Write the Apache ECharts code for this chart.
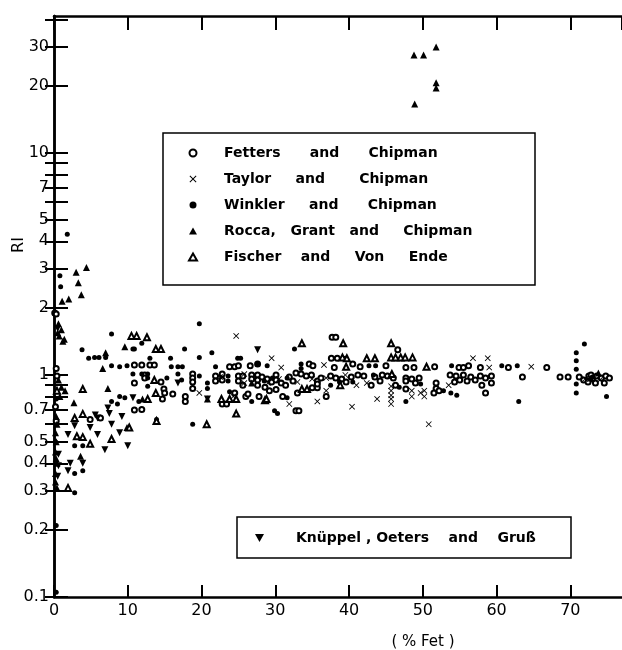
<!DOCTYPE html>
<html>
<head>
<meta charset="utf-8">
<script src="https://cdn.jsdelivr.net/npm/echarts@6/dist/echarts.min.js"></script>
<style>html,body{margin:0;padding:0;background:#fff}#c{width:622px;height:650px}</style>
</head>
<body>
<div id="c"></div>
<script>
// ---- data: [% Fet, RI] ----
const fettersData = [[0.1,1.9],[0.3,1.88],[0.3,1.07],[0.4,0.99],[0.2,0.72],[0.3,0.62],[4.9,0.63],[6.3,0.64],
[10.9,1.11],[11.9,1.11],[13.0,1.11],[13.6,1.11],[10.9,0.92],[14.5,0.93],[14.9,0.865],[16.1,0.82],[14.7,0.78],[10.9,0.695],[11.9,0.70],[18.8,1.01],[18.8,0.97],[18.8,0.93],[18.8,0.87],[17.8,0.80],[17.8,0.76],[12.3,1.0],[12.3,0.97],[15.0,0.83],
[21.9,0.99],[21.9,0.94],[22.8,1.01],[22.8,0.95],[23.8,1.09],[24.5,1.09],[25.0,1.1],[26.6,1.1],[27.6,1.12],[25.0,0.99],[25.0,0.94],[25.6,0.99],[25.6,0.9],[26.8,1.0],[26.8,0.96],[22.8,0.74],[23.4,0.74],[27.6,1.0],[27.6,0.95],[27.6,0.9],[27.8,0.8],[28.2,0.98],[28.9,0.96],[29.5,0.93],[26.0,0.8],[26.3,0.82],[24.5,0.83],[28.6,0.88],[29.2,0.85],
[30.1,1.0],[30.1,0.95],[30.8,0.92],[31.4,0.9],[30.1,0.86],[31.9,0.98],[32.4,0.94],[32.8,1.02],[33.5,1.01],[34.2,0.99],[34.9,1.0],[34.6,1.12],[35.1,1.1],[35.0,0.875],[35.7,0.875],[35.7,0.94],[35.7,0.91],[36.9,0.8],[37.7,1.48],[38.2,1.48],[37.6,1.19],[38.4,1.19],[38.0,1.08],[37.5,0.99],[38.2,0.97],[39.0,0.96],[39.6,0.93],[32.8,0.69],[33.2,0.69],[31.0,0.8],[33.0,0.83],[36.2,0.97],
[40.5,1.12],[41.5,1.09],[40.3,0.98],[41.2,1.0],[42.0,0.99],[43.5,0.98],[44.5,1.0],[44.2,0.94],[43.0,0.9],[45.0,1.1],[46.6,1.30],[45.2,0.99],[46.0,0.97],[47.7,0.97],[47.7,0.94],[48.5,0.96],[49.5,0.97],[47.7,1.08],[48.8,1.08],[47.7,0.865],[46.3,0.9],[49.0,0.92],
[51.6,1.09],[51.8,0.92],[51.8,0.87],[51.5,0.83],[52.2,0.85],[53.7,1.0],[54.5,0.99],[55.0,0.95],[55.5,1.0],[56.0,0.94],[56.5,0.98],[57.1,0.95],[54.3,0.93],[54.9,1.08],[55.5,1.08],[56.2,1.1],[57.8,1.08],[57.8,0.99],[58.5,0.97],[59.3,0.99],[58.5,0.83],[59.3,0.92],[58.0,0.9],
[61.6,1.08],[66.8,1.08],[63.5,0.98],[68.6,0.98],[69.7,0.98],[71.2,0.98],[71.8,0.95],[72.5,0.99],[73.0,0.96],[73.6,0.99],[74.2,0.97],[74.8,0.99],[75.3,0.97],[72.4,0.93],[73.4,0.92],[74.6,0.92],[72.8,1.0]];

const taylorData = [[24.7,1.5],[25.8,1.01],[25.8,0.92],[19.7,0.83],[24.3,0.8],[29.5,1.19],[30.8,1.08],[36.6,1.11],[36.9,0.85],[36.9,0.97],[31.9,0.74],[35.7,0.76],[40.4,0.72],[43.8,0.78],[42.4,0.92],[45.7,0.89],[45.7,0.85],[45.7,0.81],[45.7,0.78],[45.7,0.74],[48.5,0.85],[48.5,0.8],[49.7,0.83],[50.2,0.85],[50.2,0.8],[50.8,0.6],[56.8,1.19],[58.8,1.19],[59.0,1.08],[64.7,1.09],[29.0,0.92],[30.5,0.96],[33.0,0.93],[39.5,1.0],[41.0,0.9],[53.5,0.9],[35.0,0.96],[22.5,0.98],[72.0,0.96],[74.0,0.95]];

const winklerData = [[0.8,2.8],[0.9,2.5],[1.8,4.3],[0.3,0.21],[0.3,0.105],[3.8,1.3],[4.7,1.19],[5.5,1.2],[6.1,1.2],[7.8,1.53],[7.0,1.2],[7.8,1.1],[8.9,1.09],[9.9,1.1],[10.9,1.31],[8.9,0.80],[9.6,0.79],[7.8,0.76],[8.6,0.74],[2.8,0.48],[3.9,0.48],[2.8,0.36],[3.9,0.37],[2.8,0.295],[0.2,0.5],[0.3,0.78],
[10.7,1.31],[11.9,1.39],[13.0,1.19],[15.8,1.19],[17.7,1.31],[10.7,1.01],[11.9,1.01],[12.7,1.01],[12.7,0.97],[15.3,0.97],[15.9,1.09],[16.8,1.09],[17.4,1.09],[16.8,1.01],[12.7,0.89],[11.5,0.76],[13.9,0.63],[18.8,0.6],[19.7,1.7],[19.7,1.2],[19.7,0.99],[17.3,0.95],
[21.4,1.26],[21.9,1.09],[20.8,0.92],[20.8,0.87],[23.6,0.99],[23.6,0.94],[24.9,1.19],[25.3,1.19],[23.8,0.84],[26.8,0.76],[27.6,1.12],[28.9,1.1],[29.9,0.69],[30.3,0.67],[31.6,0.79],[28.5,0.94],[29.6,0.97],[31.6,0.97],[32.6,1.31],[33.5,1.12],[33.5,1.07],
[37.5,0.9],[38.7,0.93],[39.5,1.19],[40.5,0.93],[42.7,1.1],[43.6,1.1],[43.3,1.0],[46.8,0.88],[47.7,0.76],[49.7,0.91],[52.8,0.85],[53.8,0.83],[54.6,0.81],[53.9,1.1],[60.7,1.1],[62.8,1.1],[63.0,0.76],
[70.8,1.26],[70.8,1.16],[70.8,1.06],[70.8,0.91],[70.8,0.83],[71.9,1.38],[74.9,0.8],[73.0,0.98]];

const roccaData = [[0.6,1.7],[1.0,1.6],[0.7,1.5],[1.2,1.42],[0.5,1.55],[1.4,1.45],[1.1,2.15],[2.0,2.2],[3.0,2.9],[4.4,3.05],[3.3,2.6],[3.7,2.3],[0.6,0.95],[1.0,0.88],[1.5,0.85],[0.8,0.8],[0.3,0.65],[0.4,0.6],[0.2,0.55],[0.3,0.5],[0.2,0.45],[0.3,0.42],[0.4,0.4],[0.2,0.36],[0.2,0.33],[0.4,0.31],[2.7,0.75],[7.3,0.87],[9.6,1.34],[7.0,1.26],[6.6,1.07],[9.9,0.58],[3.6,0.43],[12.0,0.78],[20.8,0.78],[48.8,27.6],[50.1,27.6],[51.8,30.0],[51.8,20.7],[51.8,19.6],[48.9,16.6],[73.8,1.02],[72.8,0.97],[26.8,0.92]];

const fischerData = [[3.9,0.865],[2.8,0.64],[3.9,0.668],[3.1,0.53],[3.9,0.525],[7.8,0.515],[4.9,0.49],[1.9,0.31],[10.5,1.5],[11.2,1.5],[12.6,1.48],[13.8,1.31],[14.5,1.31],[13.6,0.95],[13.8,0.83],[12.7,0.78],[13.9,0.62],[20.7,0.6],[22.7,0.78],[23.8,0.78],[24.7,0.78],[24.7,0.67],[28.6,0.77],[28.8,0.78],[33.6,1.39],[39.2,1.39],[39.1,1.2],[39.7,1.19],[39.6,1.09],[42.4,1.19],[43.5,1.19],[33.6,0.865],[34.3,0.865],[38.8,0.9],[45.7,1.39],[45.7,1.2],[46.3,1.2],[47.0,1.2],[47.6,1.2],[48.6,1.2],[45.8,1.01],[50.5,1.09],[0.4,0.85],[10.2,0.58]];

const knuppelData = [[0.5,0.35],[0.6,0.39],[0.6,0.44],[7.3,0.71],[5.9,0.64],[5.6,0.66],[2.8,0.59],[4.9,0.58],[5.9,0.54],[7.8,0.6],[9.2,0.65],[8.9,0.55],[1.9,0.54],[10.0,0.48],[6.9,0.46],[2.2,0.40],[3.9,0.40],[1.9,0.37],[16.8,0.92],[10.7,0.79],[20.8,0.78],[27.6,1.3],[0.5,1.62],[7.5,0.67]];

const seriesNames = ['Fetters      and      Chipman', 'Taylor     and       Chipman', 'Winkler     and      Chipman', 'Rocca,   Grant   and     Chipman', 'Fischer    and     Von     Ende', 'Knüppel , Oeters    and    Gruß'];
const yTickValues = [0.1,0.2,0.3,0.4,0.5,0.6,0.7,0.8,0.9,1,2,3,4,5,6,7,8,9,10,20,30,40];
const yLabelValues = [0.1,0.2,0.3,0.4,0.5,0.7,1,2,3,4,5,7,10,20,30];
const xMin = 0, xMax = 77, xStep = 10;
const yMin = 0.1, yMax = 41.4;

const FONT = 'DejaVu Sans';
const crossPath = 'path://M0,1L1,0L5,4L9,0L10,1L6,5L10,9L9,10L5,6L1,10L0,9L4,5Z';
const downTriPath = 'path://M0,0L10,0L5,9Z';
const blk = '#000';

function mk(name, data, symbol, size, extra) {
  return Object.assign({
    name: name, type: 'scatter', data: data, symbol: symbol, symbolSize: size,
    xAxisIndex: 0, yAxisIndex: 0,
    itemStyle: { color: blk, borderColor: blk, borderWidth: symbol.indexOf('empty') === 0 ? 1.2 : 0, opacity: 1 },
    emphasis: { disabled: true }
  }, extra || {});
}

const chart = echarts.init(document.getElementById('c'), null, { renderer: 'canvas' });
const axisLine = { show: true, lineStyle: { color: blk, width: 2.5 } };
const legendText = { color: blk, fontSize: 14, fontWeight: 'bold', fontFamily: FONT, lineHeight: 16 };
chart.setOption({
  animation: false,
  backgroundColor: '#fff',
  grid: { left: 54, top: 16, right: -2, bottom: 53, containLabel: false },
  xAxis: [{
    type: 'value', min: xMin, max: xMax, interval: xStep, position: 'bottom',
    axisLine: axisLine, splitLine: { show: false },
    axisTick: { inside: true, length: 12, lineStyle: { color: blk, width: 2 } },
    axisLabel: { color: blk, fontSize: 16, fontFamily: FONT, margin: 6, showMaxLabel: false }
  }, {
    type: 'value', min: xMin, max: xMax, interval: xStep, position: 'top',
    axisLine: axisLine, splitLine: { show: false },
    axisTick: { inside: true, length: 14, lineStyle: { color: blk, width: 2 } },
    axisLabel: { show: false }
  }],
  yAxis: [{
    type: 'log', logBase: 10, min: yMin, max: yMax, position: 'left',
    axisLine: axisLine, splitLine: { show: false }, minorTick: { show: false },
    axisTick: { inside: true, length: 14, customValues: yTickValues, lineStyle: { color: blk, width: 2 } },
    axisLabel: { color: blk, fontSize: 16, fontFamily: FONT, margin: 5, customValues: yLabelValues,
      formatter: function (v) { return String(+(+v).toPrecision(2)); } }
  }, {
    type: 'log', logBase: 10, min: yMin, max: yMax, position: 'right',
    axisLine: axisLine, splitLine: { show: false },
    axisTick: { inside: true, length: 9, customValues: yTickValues, lineStyle: { color: blk, width: 2 } },
    axisLabel: { show: false }
  }],
  legend: [{
    data: seriesNames.slice(0, 5), orient: 'vertical', left: 163, top: 133,
    padding: [12, 5, 20, 25], itemWidth: 8, itemHeight: 7, itemGap: 10, symbolKeepAspect: true,
    borderColor: blk, borderWidth: 1.5, selectedMode: false,
    textStyle: Object.assign({ padding: [0, 0, 0, 22], width: 306 }, legendText)
  }, {
    data: [{ name: seriesNames[5], icon: downTriPath }], orient: 'horizontal', left: 237, top: 517,
    padding: [13, 5, 12, 18], itemWidth: 9, itemHeight: 9, selectedMode: false, symbolKeepAspect: true,
    borderColor: blk, borderWidth: 1.5,
    textStyle: Object.assign({ padding: [0, 0, 0, 27], width: 270 }, legendText)
  }],
  graphic: [
    { type: 'text', x: 19, y: 245, rotation: Math.PI / 2, style: { text: 'RI', fill: blk, font: '16px "DejaVu Sans"', align: 'center', verticalAlign: 'middle' } },
    { type: 'text', x: 423, y: 642, style: { text: '( % Fet )', fill: blk, font: '15px "DejaVu Sans"', align: 'center', verticalAlign: 'middle' } }
  ],
  series: [
    mk(seriesNames[0], fettersData, 'emptyCircle', 5),
    mk(seriesNames[1], taylorData, crossPath, 6),
    mk(seriesNames[2], winklerData, 'circle', 5),
    mk(seriesNames[3], roccaData, 'triangle', 7),
    mk(seriesNames[4], fischerData, 'emptyTriangle', 6),
    mk(seriesNames[5], knuppelData, 'triangle', 7, { symbolRotate: 180 })
  ]
});
</script>
</body>
</html>
